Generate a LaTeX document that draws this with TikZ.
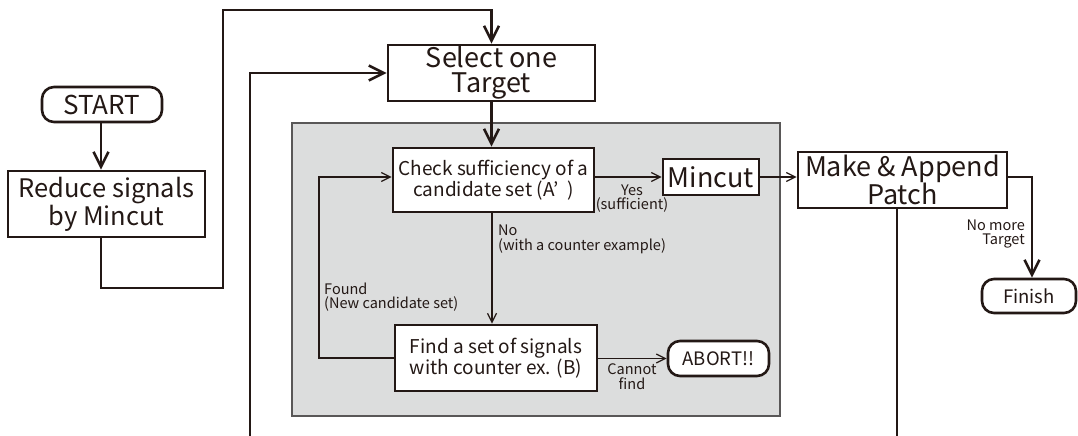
\documentclass[tikz,border=0pt]{standalone}
\usepackage{fontspec}
\setmainfont{Noto Sans CJK JP}
\usetikzlibrary{arrows.meta}
\definecolor{ink}{HTML}{231815}
\definecolor{panelgray}{HTML}{DCDDDD}
\definecolor{panelline}{HTML}{595757}
\newcommand\fsHuge{\fontsize{26}{24}\selectfont}
\newcommand\fsBig{\fontsize{27}{25}\selectfont}
\newcommand\fsRed{\fontsize{25.5}{21}\selectfont}
\newcommand\fsMid{\fontsize{19}{17}\selectfont}
\newcommand\fsAbort{\fontsize{18.5}{17}\selectfont}
\newcommand\fsSmall{\fontsize{18.5}{16}\selectfont}
\newcommand\fsLabel{\fontsize{14.5}{14.5}\selectfont}
\begin{document}
\begin{tikzpicture}[x=1pt,y=-1pt,
  box/.style={draw=ink, line width=2.6pt, fill=white, inner sep=0pt,
    align=center, text=ink},
  term/.style={box, rounded corners=12pt},
  panel/.style={draw=panelline, line width=1.4pt, fill=panelgray, inner sep=0pt},
  mainflow/.style={draw=ink, line width=2.6pt, line join=miter,
    -{Straight Barb[length=15pt,width=15pt]}},
  innerflow/.style={draw=ink, line width=1.3pt, line join=miter,
    -{Straight Barb[length=9pt,width=9pt]}},
  lbl/.style={text=ink, font=\fsLabel, inner sep=0pt},
]
\useasboundingbox (0,0) rectangle (1078,436);

% grey area holding the sufficiency check loop
\node[panel, minimum width=488pt, minimum height=293pt] (loop) at (536,269.5) {};

% nodes
\node[term, minimum width=120pt, minimum height=35pt, font=\fsHuge] (start) at (102,104.5) {START};
\node[box, minimum width=197pt, minimum height=66pt, font=\fsRed] (reduce) at (106.5,204) {Reduce signals\\by Mincut};
\node[box, minimum width=207pt, minimum height=56pt, font=\fsBig] (select) at (491.5,73) {Select one\\Target};
\node[box, minimum width=201pt, minimum height=64pt, font=\fsMid] (check) at (493.5,180) {Check sufficiency of a\\candidate set (A’\hspace{0.45em})};
\node[box, minimum width=96pt, minimum height=36pt, font=\fsBig] (mincut) at (711,177) {Mincut};
\node[box, minimum width=209pt, minimum height=56pt, font=\fsBig] (make) at (902.5,180) {Make \& Append\\Patch};
\node[term, minimum width=94pt, minimum height=34pt, font=\fsSmall] (finish) at (1029,296) {Finish};
\node[box, minimum width=202pt, minimum height=66pt, font=\fsMid] (find) at (496,358) {Find a set of signals\\with counter ex. (B)};
\node[term, minimum width=101pt, minimum height=35pt, font=\fsAbort] (abort) at (718.5,358.5) {ABORT!!};

% turning points of the outer routes
\coordinate (r1) at (101,288);
\coordinate (r2) at (223,288);
\coordinate (r3) at (223,10);
\coordinate (b1) at (897,437);
\coordinate (b2) at (250,437);
\coordinate (f1) at (319,358);

% outer flow
\draw[mainflow] (start.south -| r1) -- (reduce.north -| r1);
\draw[mainflow] (reduce.south -| r1) -- (r1) -- (r2) -- (r3) -| (select.north);
\draw[mainflow] (select.south) -- (check.north -| select.south);
\draw[mainflow] (make.south -| b1) -- (b1) -- (b2) |- (select.west);
\draw[mainflow] (make.east |- mincut) -| (finish.north -| 1032,0);

% inner flow
\draw[innerflow] (check.east |- mincut) -- (mincut.west);
\draw[innerflow] (mincut.east) -- (make.west |- mincut);
\draw[innerflow] (check.south -| 492,0) -- (find.north -| 492,0);
\draw[innerflow] (find.west |- f1) -- (f1) |- (check.west |- mincut);
\draw[innerflow] (find.east |- abort) -- (abort.west);

% labels
\node[lbl, align=center] (yes) at (632,198.5) {Yes\\(sufficient)};
\node[lbl, align=left, anchor=west] (no) at (498,239.5) {No\\(with a counter example)};
\node[lbl, align=left, anchor=west] (found) at (324,297) {Found\\(New candidate set)};
\node[lbl, align=center] (cannot) at (632,376.5) {Cannot\\find};
\node[lbl, align=right, anchor=east] (nomore) at (1025,234) {No more\\Target};
\end{tikzpicture}
\end{document}
